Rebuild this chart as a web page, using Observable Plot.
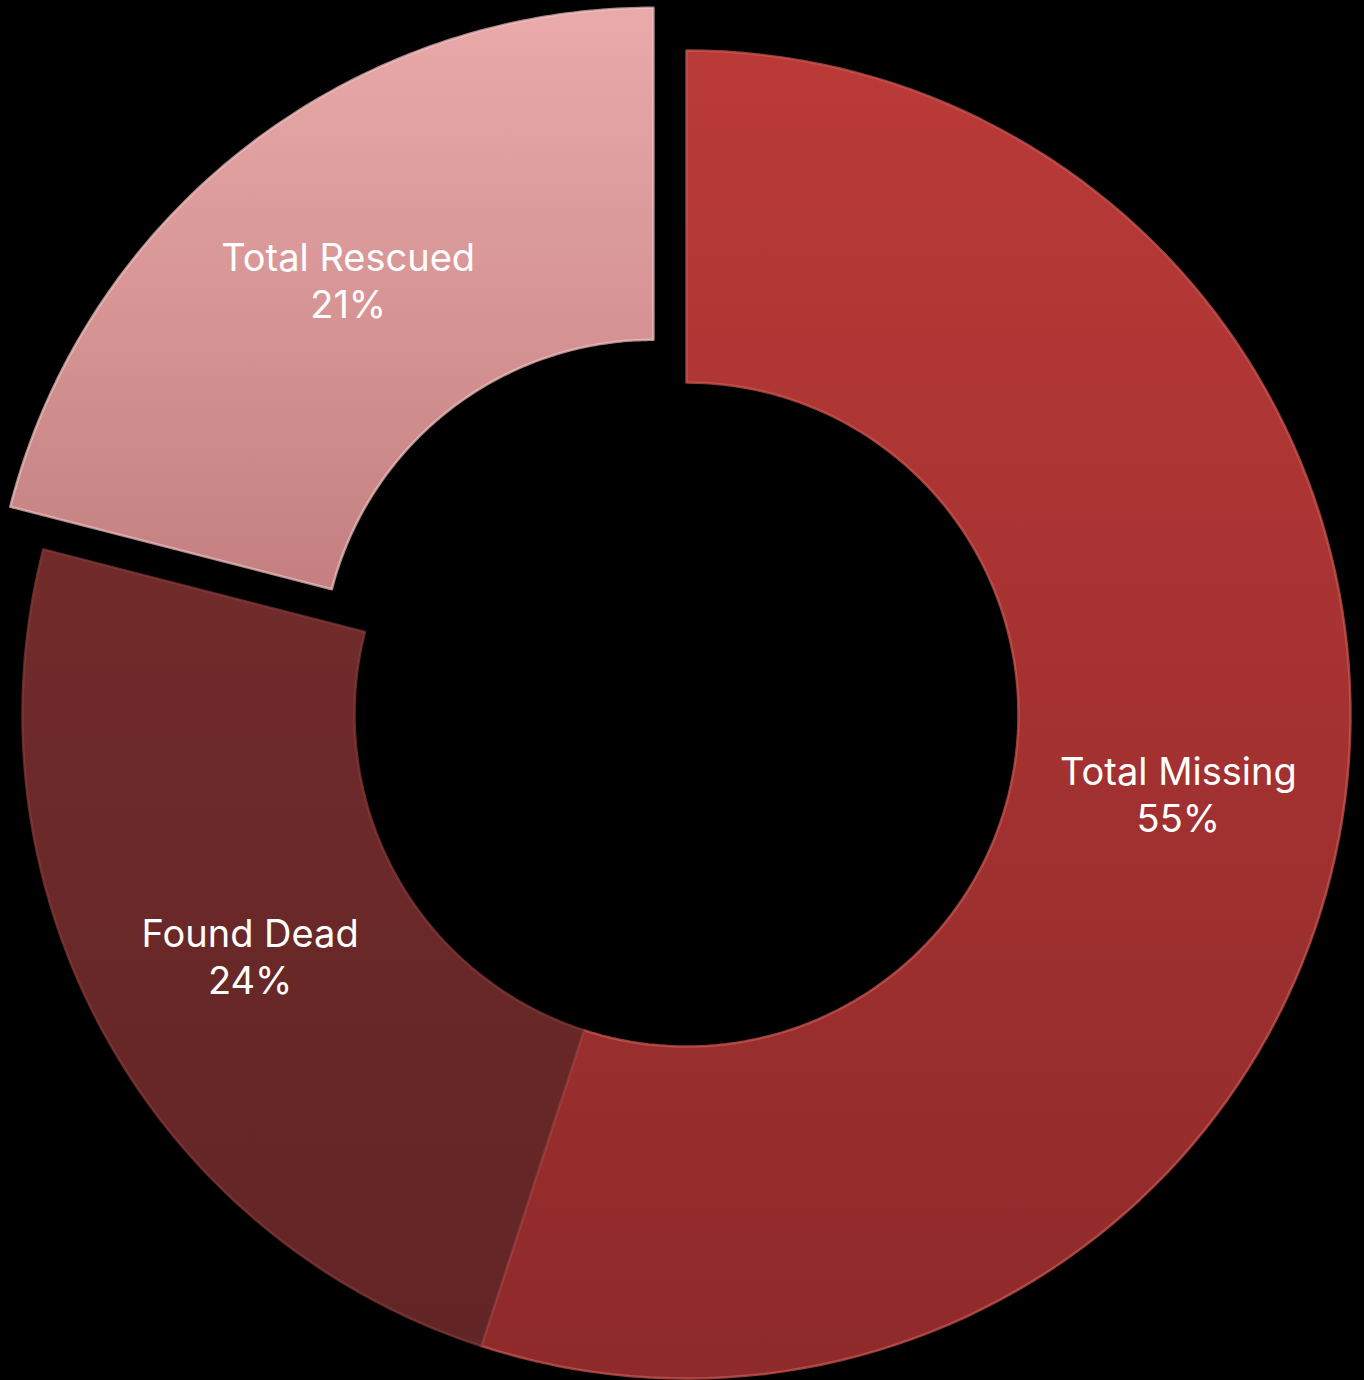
<!DOCTYPE html>
<html>
<head>
<meta charset="utf-8">
<script src="https://cdn.jsdelivr.net/npm/d3@7"></script>
<script src="https://cdn.jsdelivr.net/npm/@observablehq/plot@0.6"></script>
<style>
  html, body { margin: 0; padding: 0; background: #000; }
  #chart svg { display: block; background: #000; }
</style>
</head>
<body>
<div id="chart"></div>
<script>
// Data
const categories = ["Total Missing", "Found Dead", "Total Rescued"];
const values = [55, 24, 21];
const labels = ["55%", "24%", "21%"];
const exploded = [false, false, true];

// Styling
const gradIds = ["gMissing", "gDead", "gRescued"];
const gradStops = [
  ["#ba3a38", "#8e2a2a"],
  ["#712b2b", "#622525"],
  ["#eaaaaa", "#c48080"]
];
const edgeColors = ["#d25a55", "#8a3b3a", "#f4c4c4"];

const W = 1364, H = 1380;
const outerR = 664, innerR = 332, explodeDist = 54;

const pie = d3.pie().sort(null).value(d => d.value);
const arcs = pie(categories.map((c, i) => ({name: c, value: values[i], label: labels[i], exploded: exploded[i]})));

function slicePoints(a) {
  const mid = (a.startAngle + a.endAngle) / 2;
  const off = a.data.exploded ? explodeDist : 0;
  const ox = off * Math.sin(mid), oy = off * Math.cos(mid);
  const n = 120;
  const pts = [];
  for (let k = 0; k <= n; k++) {
    const t = a.startAngle + (a.endAngle - a.startAngle) * k / n;
    pts.push({x: ox + outerR * Math.sin(t), y: oy + outerR * Math.cos(t), name: a.data.name});
  }
  for (let k = n; k >= 0; k--) {
    const t = a.startAngle + (a.endAngle - a.startAngle) * k / n;
    pts.push({x: ox + innerR * Math.sin(t), y: oy + innerR * Math.cos(t), name: a.data.name});
  }
  pts.push(pts[0]);
  return pts;
}

const labelData = arcs.map(a => {
  const mid = (a.startAngle + a.endAngle) / 2;
  const r = (outerR + innerR) / 2 + (a.data.exploded ? explodeDist : 0);
  return {x: r * Math.sin(mid), y: r * Math.cos(mid), text: a.data.name + "\n" + a.data.label};
});

const marks = arcs.map((a, i) => Plot.line(slicePoints(a), {
  x: "x", y: "y",
  fill: `url(#${gradIds[i]})`,
  stroke: edgeColors[i],
  strokeWidth: 2.5,
  strokeOpacity: 0.7,
  curve: "linear"
}));

marks.push(Plot.text(labelData, {
  x: "x", y: "y", text: "text",
  fill: "#ffffff",
  fontSize: 38,
  lineHeight: 1.25,
  dy: 1,
  fontFamily: "Inter, Roboto, sans-serif"
}));

const chart = Plot.plot({
  width: W, height: H,
  margin: 0,
  x: {domain: [-686, 678], axis: null},
  y: {domain: [-666, 714], axis: null},
  style: {background: "#000"},
  marks
});

// gradient defs
const ns = "http://www.w3.org/2000/svg";
const defs = document.createElementNS(ns, "defs");
gradIds.forEach((id, i) => {
  const g = document.createElementNS(ns, "linearGradient");
  g.setAttribute("id", id);
  g.setAttribute("x1", "0"); g.setAttribute("y1", "0");
  g.setAttribute("x2", "0"); g.setAttribute("y2", "1");
  [[0, gradStops[i][0]], [1, gradStops[i][1]]].forEach(([o, c]) => {
    const s = document.createElementNS(ns, "stop");
    s.setAttribute("offset", o);
    s.setAttribute("stop-color", c);
    g.appendChild(s);
  });
  defs.appendChild(g);
});
chart.insertBefore(defs, chart.firstChild);

document.getElementById("chart").appendChild(chart);
</script>
</body>
</html>
